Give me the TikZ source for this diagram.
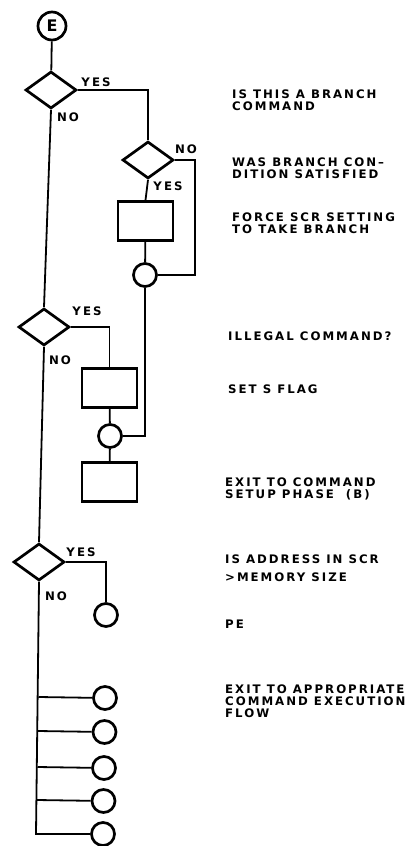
\documentclass[tikz,border=0pt]{standalone}
\usepackage{fontspec}
\newfontfamily\labfont[LetterSpace=17]{DejaVu Sans}
\newfontfamily\efont{DejaVu Sans}
\usetikzlibrary{shapes.geometric}
\begin{document}
\begin{tikzpicture}[x=1bp,y=-1bp,
  conn/.style={line width=1.8bp},
  shp/.style={draw,line width=2.7bp,inner sep=0pt},
  dec/.style={shp,diamond,minimum width=51bp,minimum height=37bp},
  proc/.style={shp,rectangle,minimum width=55bp,minimum height=39bp},
  jn/.style={shp,circle,minimum size=23bp},
  lbl/.style={font=\labfont\bfseries\fontsize{11.8}{12}\selectfont,inner sep=0pt},
  note/.style={lbl,anchor=north west,align=left}]
\fill[white] (0,0) rectangle (415,846);
\useasboundingbox (0,0) rectangle (415,846);
% shapes
\node[jn,minimum size=28bp,font=\efont\bfseries\fontsize{16}{16}\selectfont] (E) at (52,26) {E};
\node[dec] (d1) at (51,90) {};
\node[dec] (d2) at (148,160) {};
\node[proc] (b1) at (145.5,221) {};
\node[jn] (c1) at (145,275) {};
\node[dec] (d3) at (44,327) {};
\node[proc] (b2) at (109.5,388) {};
\node[jn] (c2) at (110,436) {};
\node[proc] (b3) at (109.5,482) {};
\node[dec] (d4) at (39,562) {};
\node[jn] (pe) at (106,615) {};
\node[jn] (x1) at (105,698) {};
\node[jn] (x2) at (104.5,732) {};
\node[jn] (x3) at (104,768) {};
\node[jn] (x4) at (103.5,801) {};
\node[jn] (x5) at (103,834) {};
\coordinate (j1) at (38.5,697);
\coordinate (j2) at (38,731);
\coordinate (j3) at (37.5,767);
\coordinate (j4) at (37,800);
\coordinate (j5) at (36,834);
% connectors
\draw[conn] (E) -- (d1);
\draw[conn] (d1.east) -| (d2.north);
\draw[conn] (d1.south) -- (d3.north);
\draw[conn] (d2.south) -- (b1.north);
\draw[conn] (d2.east) -- ++(20,0) |- (c1.east);
\draw[conn] (b1) -- (c1);
\draw[conn] (c1.south) |- (c2.east);
\draw[conn] (d3.east) -| (b2.north);
\draw[conn] (b2) -- (c2);
\draw[conn] (c2) -- (b3);
\draw[conn] (d3.south) -- (d4.north);
\draw[conn] (d4.east) -| (pe.north);
\draw[conn] (d4.south) -- (j5) -- (x5);
\draw[conn] (j1) -- (x1);
\draw[conn] (j2) -- (x2);
\draw[conn] (j3) -- (x3);
\draw[conn] (j4) -- (x4);
% branch labels
\node[lbl] (y1) at (96,82) {YES};
\node[lbl] (n1) at (68,117) {NO};
\node[lbl] (n2) at (186,149) {NO};
\node[lbl] (y2) at (168,186) {YES};
\node[lbl] (y3) at (87,311) {YES};
\node[lbl] (n3) at (60,360) {NO};
\node[lbl] (y4) at (81,552) {YES};
\node[lbl] (n4) at (56,596) {NO};
% notes
\node[note] (t1) at (232,90) {IS THIS A BRANCH\\COMMAND};
\node[note] (t2) at (232,158) {WAS BRANCH CON–\\DITION SATISFIED};
\node[note] (t3) at (232,213) {FORCE SCR SETTING\\TO TAKE BRANCH};
\node[note] (t4) at (228,332) {ILLEGAL COMMAND?};
\node[note] (t5) at (228,385) {SET S FLAG};
\node[note] (t6) at (225,478) {EXIT TO COMMAND\\SETUP PHASE\hspace{12bp}(B)};
\node[note] (t7) at (225,555) {IS ADDRESS IN SCR\\[6bp]>\,MEMORY SIZE};
\node[note] (t8) at (225,620) {PE};
\node[note] (t9) at (225,685) {EXIT TO APPROPRIATE\\COMMAND EXECUTION\\FLOW};
\end{tikzpicture}
\end{document}
